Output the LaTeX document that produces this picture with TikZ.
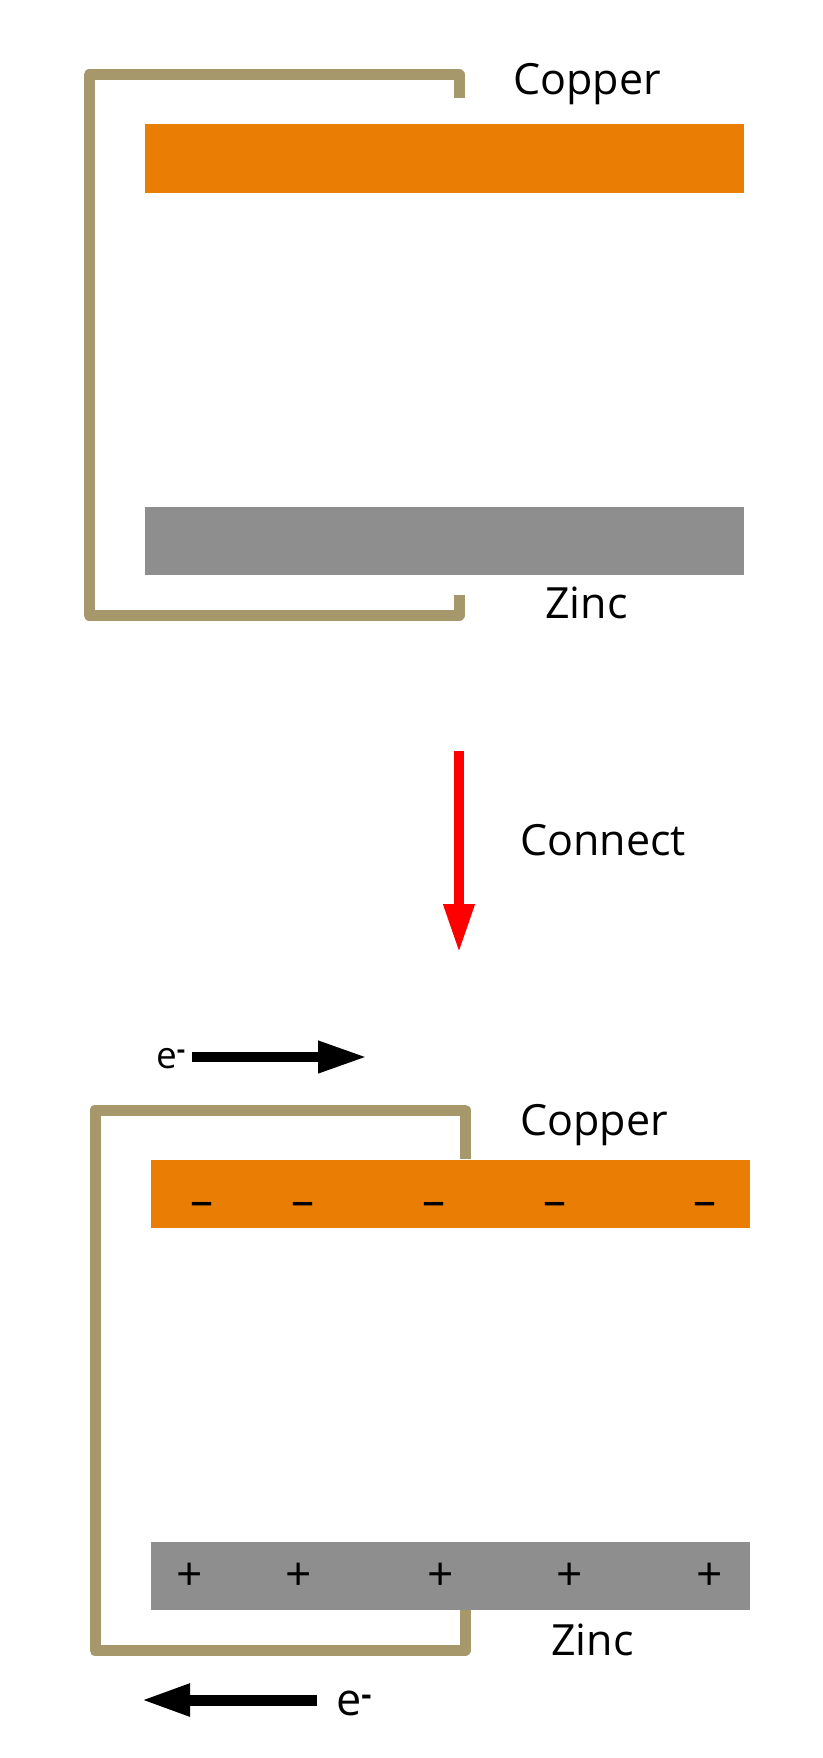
\documentclass[tikz,border=0pt]{standalone}
\usepackage{fontspec}
\setmainfont{Open Sans}
\usetikzlibrary{arrows.meta}
\definecolor{copperorange}{RGB}{234,126,4}
\definecolor{zincgray}{RGB}{142,142,142}
\definecolor{wirebrown}{RGB}{166,152,106}
\tikzset{
  plate/.style={inner sep=0pt, minimum width=599pt, minimum height=68pt},
  cuplate/.style={plate, fill=copperorange},
  znplate/.style={plate, fill=zincgray},
  wire/.style={draw=wirebrown, line width=11pt, line join=round},
  metal/.style={inner sep=0pt, anchor=base west, font=\fontsize{43}{50}\selectfont},
  charge/.style={inner sep=0pt, font=\fontsize{46}{50}\selectfont},
  flow/.style={line width=10pt, -{Triangle[length=49pt,width=30pt]}},
}
\begin{document}
\begin{tikzpicture}[x=1pt,y=-1pt]
  \useasboundingbox (0,0) rectangle (822,1758);

  % plates apart
  \node[cuplate] (cuA) at (444.5,158.5) {};
  \node[znplate] (znA) at (444.5,540.5) {};
  \node[metal] (cuAtext) at (513,95) {Copper};
  \node[metal] (znAtext) at (545,618) {Zinc};
  \coordinate (cuAend) at (459,98);
  \coordinate (znAend) at (459,595);
  \draw[wire] (cuAend) |- (89,75) -- (89,615) -| (znAend);

  % connect
  \coordinate (gotail) at (459,751);
  \coordinate (gohead) at (459,953);
  \draw[flow, red, -{Triangle[length=49pt,width=29pt]}] (gotail) -- (gohead);
  \node[metal] (connect) at (520,855) {Connect};

  % plates joined
  \node[cuplate] (cuB) at (450,1193.5) {};
  \node[znplate] (znB) at (450,1575.5) {};
  \node[metal] (cuBtext) at (520,1135) {Copper};
  \node[metal] (znBtext) at (551,1655) {Zinc};
  \coordinate (tap) at (465,0);
  \draw[wire] (cuB.north -| tap) |- (95,1110) -- (95,1650) -| (znB.south -| tap);

  \foreach[count=\i] \x in {202,303,434,555,705} {
    \node[charge] (minus\i) at (\x,1209) {–};
  }
  \foreach[count=\i] \x in {190,299,441,570,710} {
    \node[charge] (plus\i) at (\x,1577) {+};
  }

  % electrons
  \coordinate (eAtail) at (192,1057);
  \coordinate (eAhead) at (367,1057);
  \draw[flow] (eAtail) -- (eAhead);
  \node[inner sep=0pt, anchor=base west, font=\fontsize{37}{40}\selectfont] (eA) at (156,1068) {e\textsuperscript{\bfseries -}};
  \coordinate (eBtail) at (317,1700);
  \coordinate (eBhead) at (141,1700);
  \draw[flow, line width=11pt] (eBtail) -- (eBhead);
  \node[inner sep=0pt, anchor=base west, font=\fontsize{45}{50}\selectfont] (eB) at (336,1715) {e\textsuperscript{\bfseries -}};
\end{tikzpicture}
\end{document}
